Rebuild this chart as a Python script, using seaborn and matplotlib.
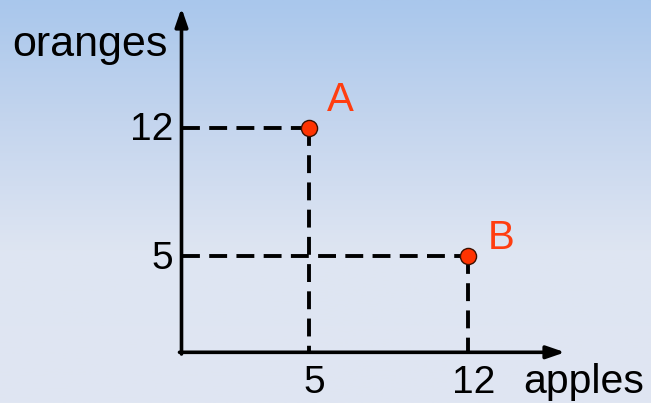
import numpy as np
import pandas as pd
import seaborn as sns
import matplotlib.pyplot as plt
from matplotlib.colors import LinearSegmentedColormap

# data
labels = ['A', 'B']
apples = [5, 12]
oranges = [12, 5]
x_ticks = [5, 12]
y_ticks = [12, 5]
x_name = 'apples'
y_name = 'oranges'

df = pd.DataFrame({'label': labels, 'apples': apples, 'oranges': oranges})

sns.set_style('white')
plt.rcParams['font.family'] = ['Liberation Sans', 'DejaVu Sans']
plt.rcParams['text.color'] = 'black'

W, H = 651, 403
fig = plt.figure(figsize=(W / 100, H / 100), dpi=100)
ax = fig.add_axes([0, 0, 1, 1])

# pixel anchors: x=5 -> 309px, x=12 -> 468.3px ; y=12 -> 127.7px, y=5 -> 256px
sx = (468.3 - 309) / 7
sy = (256 - 127.7) / 7
x_lo = 5 - 309 / sx
x_hi = 5 + (W - 309) / sx
y_hi = 12 + 127.7 / sy
y_lo = 12 - (H - 127.7) / sy


def px(x):
    return 5 + (x - 309) / sx


def py(y):
    return 12 - (y - 127.7) / sy


# background gradient
bg = LinearSegmentedColormap.from_list(
    'bg', [(0, '#a9c7ec'), (0.3, '#c4d5ee'), (0.62, '#dee5f2'), (1, '#e0e6f2')])
grad = np.linspace(0, 1, 256).reshape(-1, 1)
ax.imshow(grad, cmap=bg, aspect='auto', extent=[x_lo, x_hi, y_lo, y_hi],
          origin='upper', zorder=0)

ax.set_xlim(x_lo, x_hi)
ax.set_ylim(y_lo, y_hi)
ax.axis('off')

x0, y0 = px(181.5), py(352.3)

# axes with arrows
arrow = dict(arrowstyle='-|>,head_length=1.1,head_width=0.38', color='black',
             lw=2.6, shrinkA=0, shrinkB=0)
ax.annotate('', xy=(x0, py(8)), xytext=(x0, py(354)), arrowprops=arrow, zorder=3)
ax.annotate('', xy=(px(565), y0), xytext=(px(179.5), y0), arrowprops=arrow, zorder=3)

# dashed guides
for xv, yv in zip(apples, oranges):
    ax.plot([x0, xv], [yv, yv], color='black', lw=2.8, dashes=(4.6, 2.4), zorder=2)
    ax.plot([xv, xv], [yv, y0], color='black', lw=2.8, dashes=(4.6, 2.4), zorder=2)

sns.scatterplot(data=df, x='apples', y='oranges', ax=ax, s=135, color='#ff3300',
                edgecolor='#3a1000', linewidth=1.0, zorder=4, legend=False)

# label offsets in pixels (right, up)
offsets = [(31, 28), (33, 18)]
for lab, xv, yv, (dx, dy) in zip(labels, apples, oranges, offsets):
    ax.text(xv + dx / sx, yv + dy / sy, lab, color='#ff3d10',
            fontsize=29, ha='center', va='center', zorder=5)

for t in x_ticks:
    ax.text(t + 0.25, py(393), str(t), fontsize=28, ha='center', va='baseline')
for t in y_ticks:
    ax.text(px(173), t - 0.15, str(t), fontsize=28, ha='right', va='center')

ax.text(px(523), py(393), x_name, fontsize=29.5, ha='left', va='baseline')
ax.text(px(12), py(56), y_name, fontsize=31, ha='left', va='baseline')

fig.savefig('out.png', dpi=100)
